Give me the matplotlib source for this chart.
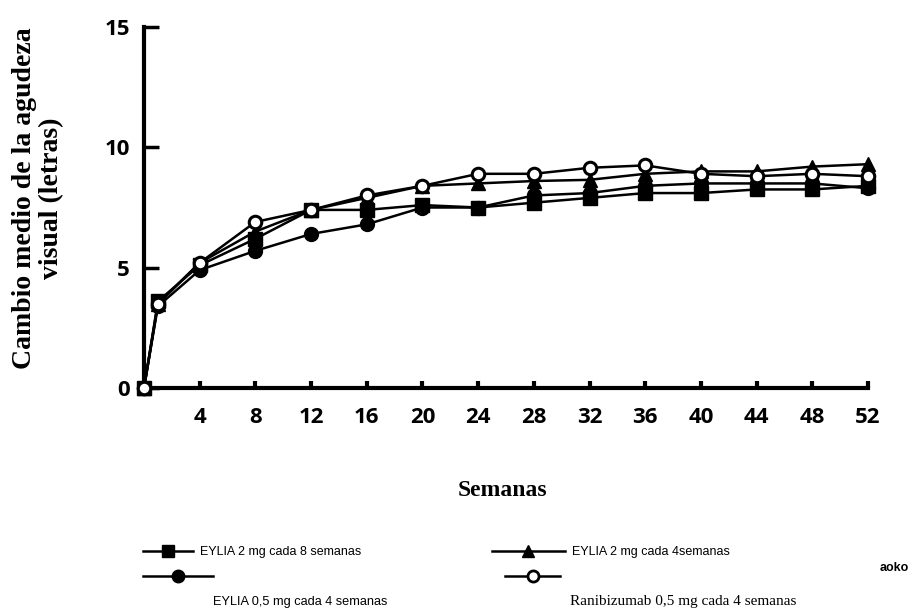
import matplotlib
matplotlib.use('Agg')
import matplotlib.pyplot as plt
from matplotlib.lines import Line2D

weeks = [0, 1, 4, 8, 12, 16, 20, 24, 28, 32, 36, 40, 44, 48, 52]
eylia_2q8 = [0, 3.6, 5.1, 6.2, 7.4, 7.4, 7.6, 7.5, 7.7, 7.9, 8.1, 8.1, 8.25, 8.25, 8.4]
eylia_2q4 = [0, 3.5, 5.2, 6.5, 7.4, 7.9, 8.4, 8.5, 8.6, 8.65, 8.9, 9.0, 9.0, 9.2, 9.3]
eylia_05q4 = [0, 3.4, 4.9, 5.7, 6.4, 6.8, 7.5, 7.5, 8.0, 8.1, 8.4, 8.5, 8.5, 8.5, 8.3]
ranibizumab = [0, 3.5, 5.2, 6.9, 7.4, 8.0, 8.4, 8.9, 8.9, 9.15, 9.25, 8.9, 8.8, 8.9, 8.8]

x_ticks = [4, 8, 12, 16, 20, 24, 28, 32, 36, 40, 44, 48, 52]
y_ticks = [0, 5, 10, 15]

label_2q8 = 'EYLIA 2 mg cada 8 semanas'
label_2q4 = 'EYLIA 2 mg cada 4semanas'
label_05q4 = 'EYLIA 0,5 mg cada 4 semanas'
label_rani = 'Ranibizumab 0,5 mg cada 4 semanas'
y_title = 'Cambio medio de la agudeza\nvisual (letras)'
x_title = 'Semanas'

W, H = 922, 610
fig = plt.figure(figsize=(W / 100, H / 100), dpi=100)
ax = fig.add_axes([144 / W, 1 - 388 / H, (868 - 144) / W, (388 - 27) / H])

lw = 1.8
ax.plot(weeks, eylia_05q4, color='black', lw=lw, marker='o', ms=10, clip_on=False, zorder=3)
ax.plot(weeks, eylia_2q8, color='black', lw=lw, marker='s', ms=10, clip_on=False, zorder=4)
ax.plot(weeks, eylia_2q4, color='black', lw=lw, marker='^', ms=10, clip_on=False, zorder=5)
ax.plot(weeks, ranibizumab, color='black', lw=lw, marker='o', ms=9, mfc='white',
        mec='black', mew=2.2, clip_on=False, zorder=6)

ax.set_xlim(0, 52)
ax.set_ylim(0, 15)
ax.set_xticks(x_ticks)
ax.set_yticks(y_ticks)
for s in ['top', 'right']:
    ax.spines[s].set_visible(False)
for s in ['left', 'bottom']:
    ax.spines[s].set_linewidth(3)
ax.tick_params(axis='y', direction='in', length=11, width=2.5, pad=10)
ax.tick_params(axis='x', direction='in', length=5, width=3, pad=14)
for lab in ax.get_xticklabels() + ax.get_yticklabels():
    lab.set_fontfamily('Open Sans')
    lab.set_fontweight('bold')
    lab.set_fontsize(16)

fig.text(38 / W, 1 - 198 / H, y_title, rotation=90, ha='center', va='center',
         multialignment='center', family='Liberation Serif', weight='bold',
         fontsize=20, linespacing=1.08)
fig.text(502 / W, 1 - 490 / H, x_title, ha='center', va='center',
         family='Liberation Serif', weight='bold', fontsize=17)

# legend
h_2q8 = Line2D([], [], color='black', lw=1.8, marker='s', ms=9)
h_2q4 = Line2D([], [], color='black', lw=1.8, marker='^', ms=9)
h_05q4 = Line2D([], [], color='black', lw=1.8, marker='o', ms=9)
h_rani = Line2D([], [], color='black', lw=1.8, marker='o', ms=8, mfc='white', mew=2)

legkw = dict(frameon=False, handlelength=4.0, handletextpad=0.6,
             borderpad=0, borderaxespad=0, loc='center left', numpoints=1,
             prop=dict(family='Liberation Sans', size=9))
fig.legend([h_2q8], [label_2q8], bbox_to_anchor=(143 / W, 1 - 552 / H), **legkw)
fig.legend([h_2q4], [label_2q4], bbox_to_anchor=(492 / W, 1 - 552 / H),
           **{**legkw, 'handlelength': 5.8})
fig.legend([h_05q4], [''], bbox_to_anchor=(143 / W, 1 - 577 / H),
           **{**legkw, 'handlelength': 5.6})
fig.legend([h_rani], [''], bbox_to_anchor=(505 / W, 1 - 577 / H),
           **{**legkw, 'handlelength': 4.4})
fig.text(213 / W, 1 - 602 / H, label_05q4, ha='left', va='center',
         family='Liberation Sans', fontsize=9.2)
fig.text(570 / W, 1 - 602 / H, label_rani, ha='left', va='center',
         family='Liberation Serif', fontsize=11)
fig.text(880 / W, 1 - 568 / H, 'aoko', ha='left', va='center',
         family='Liberation Sans', weight='bold', fontsize=9)

fig.savefig('out.png', dpi=100, facecolor='white')
